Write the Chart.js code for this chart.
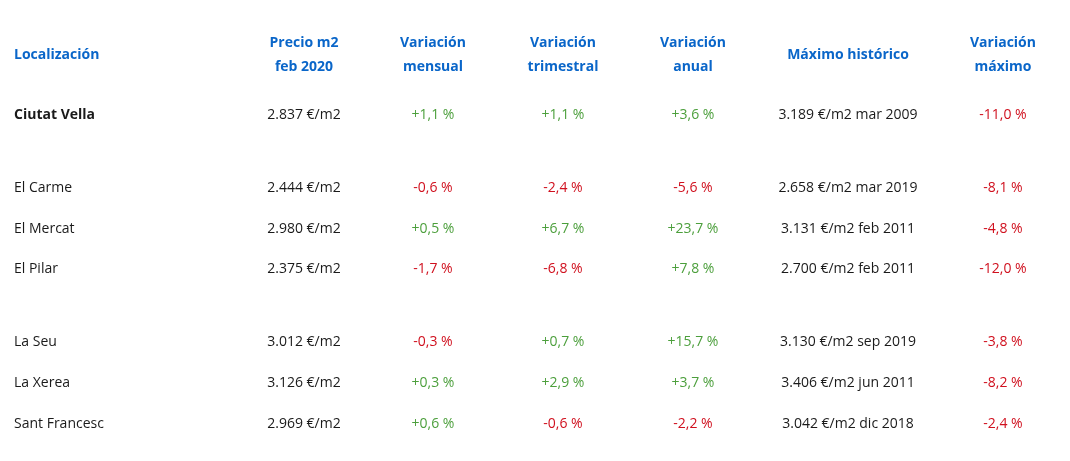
<!DOCTYPE html>
<html><head><meta charset="utf-8">
<script src="https://cdn.jsdelivr.net/npm/chart.js@4"></script>
<style>html,body{margin:0;padding:0;background:#fff}#wrap{width:1070px;height:461px}</style>
</head><body><div id="wrap"><canvas id="tabla"></canvas></div>
<script>
(function(){
    // Datos de la tabla
    const headers = [['Localización'], ['Precio m2', 'feb 2020'], ['Variación', 'mensual'], ['Variación', 'trimestral'], ['Variación', 'anual'], ['Máximo histórico'], ['Variación', 'máximo']];
    const barrios = ['Ciutat Vella', 'El Carme', 'El Mercat', 'El Pilar', 'La Seu', 'La Xerea', 'Sant Francesc'];
    const precio = [2837, 2444, 2980, 2375, 3012, 3126, 2969];
    const varMensual = [1.1, -0.6, 0.5, -1.7, -0.3, 0.3, 0.6];
    const varTrimestral = [1.1, -2.4, 6.7, -6.8, 0.7, 2.9, -0.6];
    const varAnual = [3.6, -5.6, 23.7, 7.8, 15.7, 3.7, -2.2];
    const maximo = [3189, 2658, 3131, 2700, 3130, 3406, 3042];
    const fechaMaximo = ['mar 2009', 'mar 2019', 'feb 2011', 'feb 2011', 'sep 2019', 'jun 2011', 'dic 2018'];
    const varMaximo = [-11.0, -8.1, -4.8, -12.0, -3.8, -8.2, -2.4];
    // posición vertical de cada fila (en filas, con huecos entre grupos)
    const filas = [0, 1.8, 2.8, 3.8, 5.6, 6.6, 7.6];

    const colX = [14, 304, 433, 563, 693, 848, 1003];
    const colores = { azul: '#0a66c9', verde: '#4c9f3c', rojo: '#d0101e', negro: '#1a1a1a' };
    const fuente = '"Open Sans", "Noto Sans", sans-serif';

    const miles = v => v.toLocaleString('de-DE');
    const pct = v => (v > 0 ? '+' : '') + v.toFixed(1).replace('.', ',') + ' %';
    const colorPct = v => v >= 0 ? colores.verde : colores.rojo;

    const tablaPlugin = {
        id: 'tabla',
        afterDraw(chart) {
            const ctx = chart.ctx, xs = chart.scales.x, ys = chart.scales.y;
            ctx.save();
            ctx.textBaseline = 'middle';
            // Cabecera
            ctx.font = 'bold 14px ' + fuente;
            ctx.fillStyle = colores.azul;
            headers.forEach((h, i) => {
                ctx.textAlign = i === 0 ? 'left' : 'center';
                const x = xs.getPixelForValue(colX[i]);
                if (h.length === 1) ctx.fillText(h[0], x, ys.getPixelForValue(-1.48));
                else {
                    ctx.fillText(h[0], x, ys.getPixelForValue(-1.78));
                    ctx.fillText(h[1], x, ys.getPixelForValue(-1.18));
                }
            });
            // Filas
            barrios.forEach((b, r) => {
                const y = ys.getPixelForValue(filas[r]);
                const celdas = [
                    [b, colores.negro],
                    [miles(precio[r]) + ' €/m2', colores.negro],
                    [pct(varMensual[r]), colorPct(varMensual[r])],
                    [pct(varTrimestral[r]), colorPct(varTrimestral[r])],
                    [pct(varAnual[r]), colorPct(varAnual[r])],
                    [miles(maximo[r]) + ' €/m2 ' + fechaMaximo[r], colores.negro],
                    [pct(varMaximo[r]), colorPct(varMaximo[r])]
                ];
                celdas.forEach((c, i) => {
                    ctx.font = (r === 0 && i === 0 ? 'bold ' : '') + '14px ' + fuente;
                    ctx.textAlign = i === 0 ? 'left' : 'center';
                    ctx.fillStyle = c[1];
                    ctx.fillText(c[0], xs.getPixelForValue(colX[i]), y);
                });
            });
            ctx.restore();
        }
    };

    new Chart(document.getElementById('tabla').getContext('2d'), {
        type: 'scatter',
        data: { datasets: [{ data: [], pointRadius: 0 }] },
        options: {
            responsive: true,
            maintainAspectRatio: false,
            animation: false,
            layout: { padding: 0 },
            plugins: { legend: { display: false }, tooltip: { enabled: false } },
            scales: {
                x: { type: 'linear', min: 0, max: 1070, display: false },
                y: { type: 'linear', min: -2.84, max: 8.52, reverse: true, display: false }
            }
        },
        plugins: [tablaPlugin]
    });
})();
</script>
</body></html>
